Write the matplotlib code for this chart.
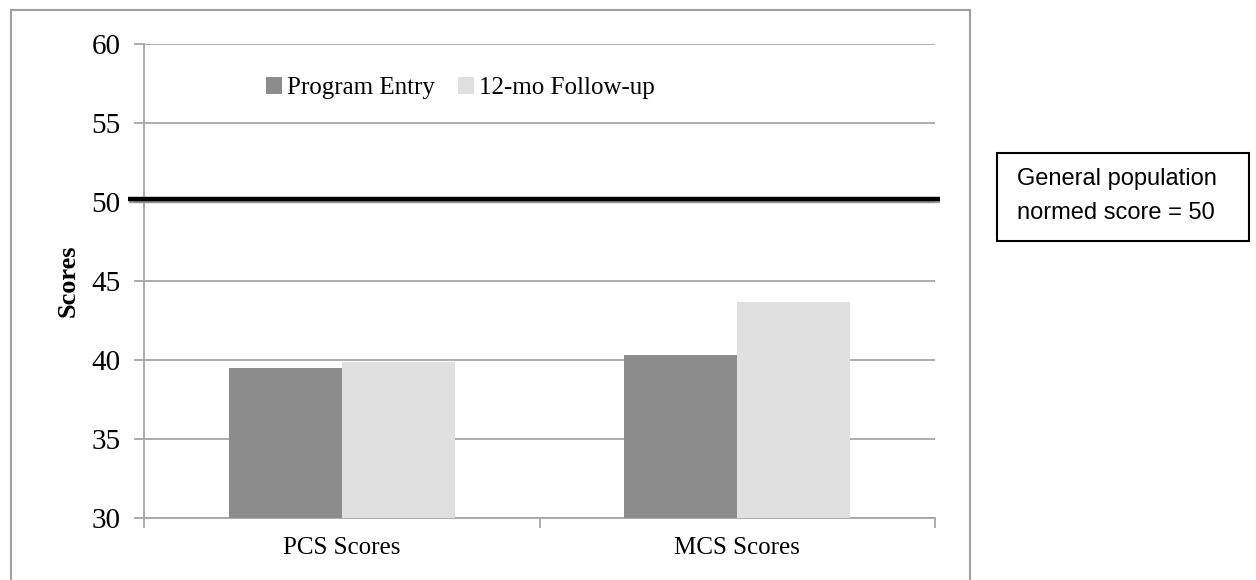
import matplotlib
matplotlib.use("Agg")
import matplotlib.pyplot as plt
import matplotlib.patheffects as pe
from matplotlib.patches import Rectangle
import numpy as np

# Mean SF-12 component scores
categories = ["PCS Scores", "MCS Scores"]
series_names = ["Program Entry", "12-mo Follow-up"]
program_entry = [39.5, 40.3]
follow_up = [39.9, 43.7]
population_norm = 50
y_ticks = [30, 35, 40, 45, 50, 55, 60]

colors = ["#8c8c8c", "#e0e0e0"]
grid_color = "#a6a6a6"
serif = ["Liberation Serif", "DejaVu Serif"]

fig = plt.figure(figsize=(12.56, 5.8), dpi=100)
ax = fig.add_axes([144 / 1256, 1 - 518 / 580, 791 / 1256, 474 / 580])

x = np.arange(len(categories))
width = 0.286
ax.bar(x - width / 2, program_entry, width, color=colors[0], label=series_names[0], zorder=3)
ax.bar(x + width / 2, follow_up, width, color=colors[1], label=series_names[1], zorder=3)

ax.set_xlim(-0.5, len(categories) - 0.5)
ax.set_ylim(y_ticks[0], y_ticks[-1])
ax.set_yticks(y_ticks)
ax.set_yticklabels([str(v) for v in y_ticks], fontfamily=serif, fontsize=21)

# category boundaries get tick marks, labels sit at the centres
ax.set_xticks(np.arange(len(categories) + 1) - 0.5)
ax.set_xticklabels([])
ax.set_xticks(x, minor=True)
ax.set_xticklabels(categories, minor=True, fontfamily=serif, fontsize=18)
ax.tick_params(axis="x", which="minor", length=0, pad=14)
ax.tick_params(axis="x", which="major", length=7, width=1.3, color=grid_color, direction="out")
ax.tick_params(axis="y", length=7, width=1.3, color=grid_color, direction="out", pad=10)

ax.yaxis.grid(True, color=grid_color, linewidth=1.3, zorder=0)
ax.set_axisbelow(True)
for side in ["top", "right"]:
    ax.spines[side].set_visible(False)
for side in ["left", "bottom"]:
    ax.spines[side].set_color(grid_color)
    ax.spines[side].set_linewidth(1.3)

ax.set_ylabel("Scores", fontfamily=serif, fontsize=19, fontweight="bold", labelpad=8)

# reference line for the general population norm
trans = ax.get_yaxis_transform()
ax.plot([-0.02, 1.006], [population_norm, population_norm], transform=trans,
        color="black", linewidth=3.2, solid_capstyle="butt", clip_on=False, zorder=5,
        path_effects=[pe.SimpleLineShadow(offset=(0.5, 0.5), shadow_color="#888888", alpha=0.8),
                      pe.Stroke(offset=(0, 2), linewidth=3.2, foreground="black")])

leg = ax.legend(loc="upper center", bbox_to_anchor=(0.40, 0.978), ncol=2, frameon=False,
                prop={"family": serif, "size": 18}, handlelength=0.65, handleheight=0.65,
                handletextpad=0.2, columnspacing=0.9)

# outer chart border
fig.add_artist(Rectangle((11 / 1256, -0.05), (970 - 11) / 1256, 1.05 - 10 / 580,
                         transform=fig.transFigure, fill=False, edgecolor="#a0a0a0",
                         linewidth=1.5))

# annotation box
fig.add_artist(Rectangle((997 / 1256, 1 - 241 / 580), 252 / 1256, 88 / 580,
                         transform=fig.transFigure, fill=False, edgecolor="black",
                         linewidth=1.5))
fig.text(1017 / 1256, 1 - 196 / 580, "General population\nnormed score = 50",
         fontfamily=["Liberation Sans", "DejaVu Sans"], fontsize=17, va="center", ha="left",
         linespacing=1.75)

fig.savefig("out.png", dpi=100)
